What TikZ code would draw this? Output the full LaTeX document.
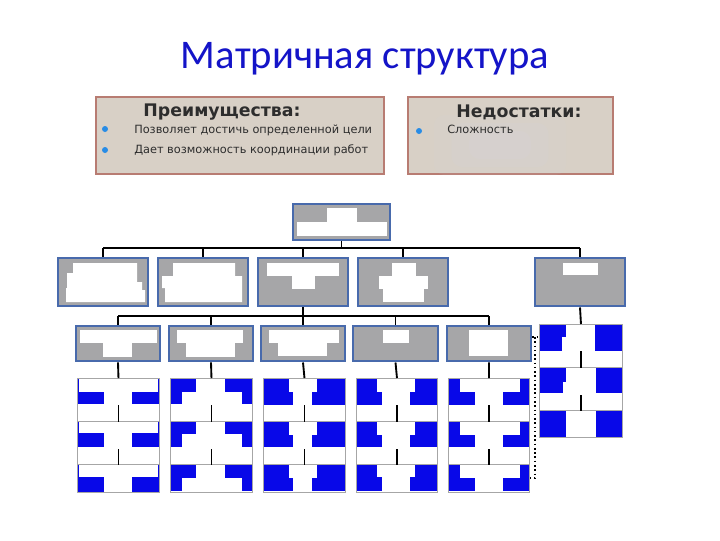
\documentclass[tikz,border=0pt]{standalone}
\usepackage{fontspec}
\setmainfont{DejaVu Sans}
\newfontfamily\titlefont{Carlito}
\definecolor{titleblue}{RGB}{20,20,200}
\definecolor{panel}{RGB}{216,208,198}
\definecolor{panelborder}{RGB}{184,124,114}
\definecolor{boxgray}{RGB}{166,166,168}
\definecolor{boxborder}{RGB}{72,106,172}
\definecolor{cellblue}{RGB}{8,8,232}
\definecolor{bulletblue}{RGB}{40,140,230}
\definecolor{txt}{RGB}{45,45,45}
\newcommand\hfont{\bfseries\fontsize{13}{15}\selectfont}
\newcommand\bfnt{\fontsize{8.5}{10}\selectfont}
% pattern: #1 left top w, #2 left bottom w, #3 right top w, #4 right bottom w, #5 cell w, #6 top, #7 mid, #8 bottom
\newcommand\pat[8]{%
  \fill[bl] (0,#6) rectangle (#1,#7);
  \fill[bl] (0,#7) rectangle (#2,#8);
  \fill[bl] ({#5-#3},#6) rectangle (#5,#7);
  \fill[bl] ({#5-#4},#7) rectangle (#5,#8);}
\newcommand\gcell[6]{%
  \begin{scope}[shift={(#2,#3)}]#6\end{scope}
  \node[cell, anchor=north west, minimum width=#4*0.75pt, minimum height=#5*0.75pt] (#1) at (#2,#3) {};}
\begin{document}
\begin{tikzpicture}[x=0.75pt,y=-0.75pt,
  conn/.style={line width=1.4pt, black},
  gbox/.style={draw=boxborder, fill=boxgray, line width=2.2pt, inner sep=0pt},
  panelbox/.style={draw=panelborder, fill=panel, line width=1pt, inner sep=0pt},
  cell/.style={draw=gray!70, line width=0.7pt, inner sep=0pt},
  bl/.style={fill=cellblue},
  wh/.style={fill=white},
  bul/.style={circle, fill=bulletblue, minimum size=6*0.75pt, inner sep=0pt},
  btxt/.style={anchor=base west, font=\bfnt, text=txt, inner sep=0pt}]
\useasboundingbox (0,0) rectangle (720,540);
\fill[white] (0,0) rectangle (720,540);

% title
\node[font=\titlefont\fontsize{30.5}{36}\selectfont, text=titleblue, anchor=base, inner sep=0pt] (title) at (365,68) {Матричная структура};

% panels
\node[panelbox, minimum width=288*0.75pt, minimum height=77*0.75pt] (pros) at (240,135.5) {};
\node[panelbox, minimum width=205*0.75pt, minimum height=77*0.75pt] (cons) at (510.5,135.5) {};
\foreach \s/\o in {30/0.08,22/0.1,14/0.12}{
  \fill[gray!70!blue!25, opacity=\o, rounded corners=8pt] (500-\s*2.2,145-\s) rectangle (500+\s*2.2,145+\s);
}
\node[font=\hfont, text=txt, anchor=base, inner sep=0pt] (prosh) at (222,116) {Преимущества:};
\node[font=\hfont, text=txt, anchor=base, inner sep=0pt] (consh) at (519,117) {Недостатки:};
\node[bul] (bp1) at (105,129) {};
\node[bul] (bp2) at (105,150) {};
\node[bul] (bc1) at (419,131) {};
\node[btxt] (tp1) at (134,133) {Позволяет достичь определенной цели};
\node[btxt] (tp2) at (134,153) {Дает возможность координации работ};
\node[btxt] (tc1) at (447,133) {Сложность};

% top box
\node[gbox, minimum width=97*0.75pt, minimum height=36*0.75pt] (top) at (341.5,222) {};
\fill[wh] (327,208) rectangle (357,222);
\fill[wh] (297,222) rectangle (387,236);

% level 2
\node[gbox, minimum width=90*0.75pt, minimum height=48*0.75pt] (b1) at (103,282) {};
\node[gbox, minimum width=90*0.75pt, minimum height=48*0.75pt] (b2) at (203,282) {};
\node[gbox, minimum width=90*0.75pt, minimum height=48*0.75pt] (b3) at (303,282) {};
\node[gbox, minimum width=90*0.75pt, minimum height=48*0.75pt] (b4) at (403,282) {};
\node[gbox, minimum width=90*0.75pt, minimum height=48*0.75pt] (b5) at (580,282) {};
\fill[wh] (73,263) -- (137,263) -- (137,282) -- (142,282) -- (142,290) -- (145,290) -- (145,302) -- (66,302) -- (66,288) -- (67,288) -- (67,273) -- (73,273) -- cycle;
\fill[wh] (173,263) -- (235,263) -- (235,276) -- (242,276) -- (242,302) -- (165,302) -- (165,288) -- (162,288) -- (162,276) -- (173,276) -- cycle;
\fill[wh] (267,263) rectangle (339,276);
\fill[wh] (292,276) rectangle (315,289);
\fill[wh] (392,263) rectangle (416,276);
\fill[wh] (379,276) rectangle (428,289);
\fill[wh] (383,289) rectangle (424,302);
\fill[wh] (563,263) rectangle (598,275);

% level 3
\node[gbox, minimum width=84*0.75pt, minimum height=35*0.75pt] (la) at (118,343.5) {};
\node[gbox, minimum width=84*0.75pt, minimum height=35*0.75pt] (lb) at (211,343.5) {};
\node[gbox, minimum width=84*0.75pt, minimum height=35*0.75pt] (lc) at (303,343.5) {};
\node[gbox, minimum width=85*0.75pt, minimum height=35*0.75pt] (ld) at (395.5,343.5) {};
\node[gbox, minimum width=84*0.75pt, minimum height=35*0.75pt] (le) at (489,343.5) {};
\fill[wh] (80,330) rectangle (157,343);
\fill[wh] (103,343) rectangle (132,357);
\fill[wh] (177,330) rectangle (243,343);
\fill[wh] (186,343) rectangle (235,357);
\fill[wh] (269,330) rectangle (339,343);
\fill[wh] (278,343) rectangle (327,356);
\fill[wh] (383,330) rectangle (409,343);
\fill[wh] (469,330) rectangle (508,356);

% grids
\gcell{a1}{77}{378}{82}{43}{\pat{1.5}{27}{1.5}{27}{82}{0}{14}{26}}
\gcell{a2}{77}{421}{82}{43}{\pat{1.5}{27}{1.5}{27}{82}{0}{12}{26}}
\gcell{a3}{77}{464}{82}{28}{\pat{1.5}{27}{1.5}{27}{82}{0}{13}{28}}
\gcell{b1c}{170}{378}{82}{43}{\pat{26}{12}{27}{10}{82}{0}{14}{26}}
\gcell{b2c}{170}{421}{82}{43}{\pat{26}{12}{27}{10}{82}{1}{13}{26}}
\gcell{b3c}{170}{464}{82}{28}{\pat{26}{12}{27}{10}{82}{1}{14}{27}}
\gcell{c1}{263}{378}{82}{43}{\pat{26}{30}{28}{33}{82}{0}{14}{27}}
\gcell{c2}{263}{421}{82}{43}{\pat{26}{30}{28}{33}{82}{1}{14}{26}}
\gcell{c3}{263}{464}{82}{28}{\pat{26}{30}{28}{33}{82}{1}{14}{27}}
\gcell{d1}{356}{378}{81}{43}{\pat{21}{26}{22}{27}{81}{0}{14}{27}}
\gcell{d2}{356}{421}{81}{43}{\pat{21}{26}{22}{27}{81}{1}{14}{26}}
\gcell{d3}{356}{464}{81}{28}{\pat{21}{26}{22}{27}{81}{1}{13}{27}}
\gcell{e1}{448}{378}{81}{43}{\pat{12}{27}{9}{26}{81}{0}{14}{27}}
\gcell{e2}{448}{421}{81}{43}{\pat{12}{27}{9}{26}{81}{1}{14}{26}}
\gcell{e3}{448}{464}{81}{28}{\pat{12}{27}{9}{26}{81}{1}{14}{27}}
\gcell{r1}{539}{324}{83}{43}{\pat{27}{23}{27}{27}{83}{0}{13}{27}}
\gcell{r2}{539}{367}{83}{43}{\pat{27}{24}{26}{26}{83}{1}{15}{26}}
\gcell{r3}{539}{410}{83}{27}{\pat{27}{27}{26}{26}{83}{0}{13}{27}}

% connectors
\coordinate (bus1) at (0,248);
\coordinate (bus2) at (0,316);
\draw[conn] (top.south) -- (top.south |- bus1);
\draw[conn] (b1.north |- bus1) -- (b5.north |- bus1);
\foreach \b in {b1,b2,b3,b4,b5} \draw[conn] (\b.north) -- (\b.north |- bus1);
\draw[conn] (b3.south) -- (b3.south |- bus2);
\draw[conn] (la.north |- bus2) -- (le.north |- bus2);
\foreach \b in {la,lb,lc,ld,le} \draw[conn] (\b.north) -- (\b.north |- bus2);
\draw[conn] (la.south) -- (a1.north);
\draw[conn] (lb.south) -- (b1c.north);
\draw[conn] (lc.south) -- (c1.north);
\draw[conn] (ld.south) -- (d1.north);
\draw[conn] (le.south) -- (e1.north);
\draw[conn] (b5.south) -- (r1.north);
\foreach \c in {a1,b1c,c1,d1,e1,r1} \draw[conn] (\c.south) -- ++(0,-17);
\foreach \c in {a2,b2c,c2,d2,e2,r2} \draw[conn] (\c.south) -- ++(0,-16);

% dotted bracket
\coordinate (dA) at (535,337);
\coordinate (dB) at (535,478);
\draw[dotted, line width=1.2pt] (le.east |- dA) -- (r1.west |- dA);
\draw[dotted, line width=1.2pt] (dA) -- (dB) -- (e3.east |- dB);
\end{tikzpicture}
\end{document}
